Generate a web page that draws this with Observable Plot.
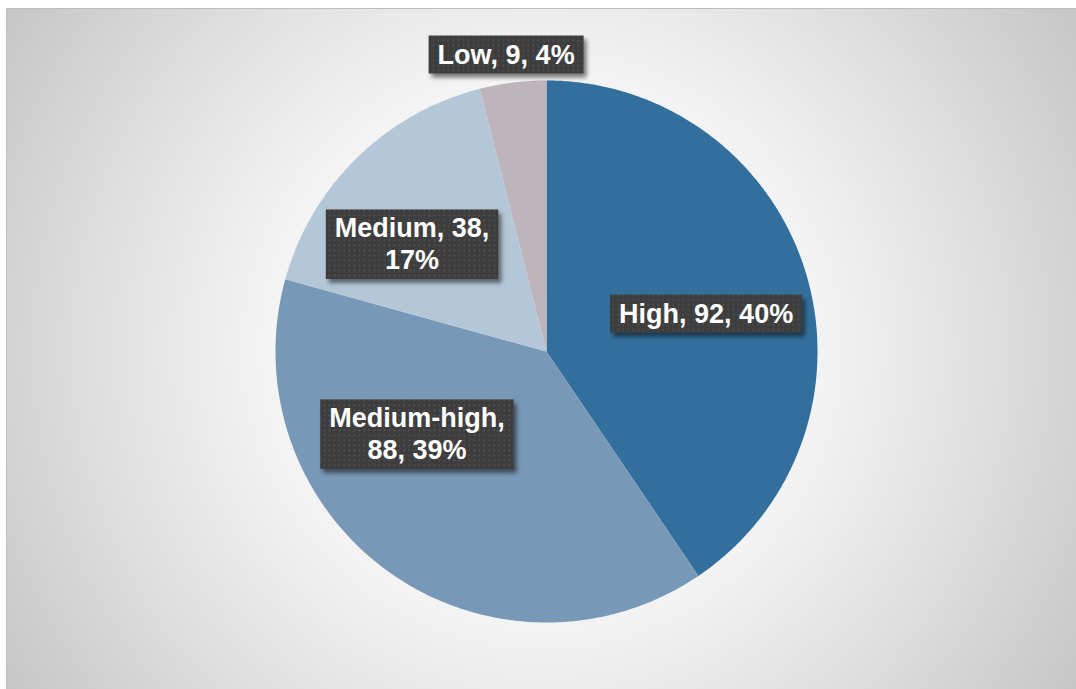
<!DOCTYPE html>
<html>
<head>
<meta charset="utf-8">
<script src="https://cdn.jsdelivr.net/npm/d3@7"></script>
<script src="https://cdn.jsdelivr.net/npm/@observablehq/plot@0.6"></script>
<style>
  html, body { margin: 0; padding: 0; background: #ffffff; }
  #wrap { position: relative; width: 1076px; height: 689px; overflow: hidden; background: #ffffff; }
  #bg {
    position: absolute; left: 6px; top: 8px; right: 0; bottom: 0;
    border-top: 1px solid #bdbdbd; border-left: 1px solid #bdbdbd;
    background: radial-gradient(circle farthest-corner at 50% 50%, #ffffff 0%, #fbfbfb 30%, #f1f1f1 47%, #e0e0e0 69%, #c6c6c6 100%);
  }
  #chart { position: absolute; left: 0; top: 0; }
</style>
</head>
<body>
<div id="wrap"><div id="bg"></div><div id="chart"></div></div>
<script>
// ---- data ----
const categories = ["High", "Medium-high", "Medium", "Low"];
const values = [92, 88, 38, 9];
const percentLabels = ["40%", "39%", "17%", "4%"];
const labelTexts = ["High, 92, 40%", "Medium-high,\n88, 39%", "Medium, 38,\n17%", "Low, 9, 4%"];

// ---- styles / layout ----
const colors = ["#336f9c", "#7898b7", "#b3c7d8", "#beb5bc"];
// label anchors in pie units (radius = 1), chosen to match the reference "best fit" placement
const labelAnchorX = [0.589, -0.478, -0.496, -0.149];
const labelAnchorY = [0.144, -0.301, 0.400, 1.100];

// ---- geometry from data ----
const arcs = d3.pie().sort(null).value(d => d)(values);
const slicePts = [];
arcs.forEach((a, i) => {
  const key = categories[i];
  slicePts.push({x: 0, y: 0, key});
  const n = Math.max(2, Math.ceil((a.endAngle - a.startAngle) / (Math.PI / 360)));
  for (let k = 0; k <= n; k++) {
    const t = a.startAngle + (a.endAngle - a.startAngle) * k / n;
    slicePts.push({x: Math.sin(t), y: Math.cos(t), key});
  }
});
const labelData = categories.map((c, i) => ({
  key: c, u: labelAnchorX[i], v: labelAnchorY[i], text: labelTexts[i]
}));

const plot = Plot.plot({
  width: 1076, height: 689,
  marginLeft: 275, marginRight: 259, marginTop: 80, marginBottom: 67,
  x: {domain: [-1, 1], axis: null},
  y: {domain: [-1, 1], axis: null},
  color: {domain: categories, range: colors},
  style: {background: "transparent", overflow: "visible"},
  marks: [
    Plot.line(slicePts, {x: "x", y: "y", z: "key", fill: "key", stroke: "none", curve: "linear-closed"}),
    Plot.text(labelData, {
      x: "u", y: "v", text: "text", fill: "white",
      fontSize: 27, fontWeight: "bold", fontFamily: "'Liberation Sans', Arial, sans-serif",
      lineHeight: 1.17, lineAnchor: "middle", textAnchor: "middle", className: "pie-label"
    })
  ]
});
document.getElementById("chart").appendChild(plot);

// ---- label boxes (dark dotted texture with drop shadow) ----
const svgNS = "http://www.w3.org/2000/svg";
const defs = document.createElementNS(svgNS, "defs");
defs.innerHTML = `
  <pattern id="dots" width="5" height="5" patternUnits="userSpaceOnUse">
    <rect width="5" height="5" fill="#3e3e3e"/>
    <rect x="1.5" y="1.5" width="1.6" height="1.6" fill="#525252"/>
  </pattern>
  <filter id="shadow" x="-20%" y="-30%" width="140%" height="170%">
    <feDropShadow dx="3" dy="4" stdDeviation="2.2" flood-color="#000" flood-opacity="0.5"/>
  </filter>`;
plot.insertBefore(defs, plot.firstChild);
const padX = 9, padY = 4;
plot.querySelectorAll(".pie-label text").forEach(t => {
  const bb = t.getBBox();
  const r = document.createElementNS(svgNS, "rect");
  const tr = t.getAttribute("transform");
  if (tr) r.setAttribute("transform", tr);
  r.setAttribute("x", bb.x - padX);
  r.setAttribute("y", bb.y - padY);
  r.setAttribute("width", bb.width + 2 * padX);
  r.setAttribute("height", bb.height + 2 * padY);
  r.setAttribute("fill", "url(#dots)");
  r.setAttribute("filter", "url(#shadow)");
  t.parentNode.insertBefore(r, t);
});
</script>
</body>
</html>
